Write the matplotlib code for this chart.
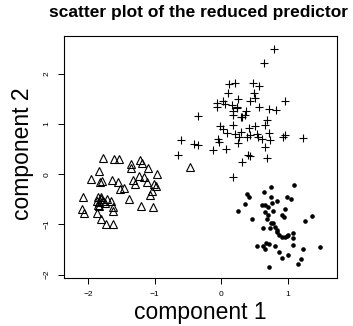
import matplotlib
matplotlib.use("Agg")
import matplotlib.pyplot as plt

plt.rcParams['font.family'] = ['Liberation Sans', 'DejaVu Sans']

# group 1 (open triangles)
tri_x = [-1.786, -1.609, -1.534, -1.361, -1.362, -1.215, -1.192, -1.095, -0.962, -1.836,
         -1.959, -1.824, -1.789, -1.641, -1.550, -1.529, -1.459, -1.323, -1.298, -1.242,
         -1.162, -1.114, -1.008, -0.986, -1.042, -1.068, -2.084, -1.851, -1.814, -1.774,
         -1.839, -1.874, -1.723, -1.663, -1.633, -1.835, -1.624, -1.395, -1.211, -1.027,
         -2.095, -2.062, -1.862, -1.812, -1.726, -1.629, -0.471, -1.802, -1.756, -1.857]
tri_y = [0.319, 0.295, 0.295, 0.201, 0.129, 0.285, 0.231, 0.116, 0.010, 0.072,
         -0.084, -0.159, -0.124, -0.118, -0.149, -0.285, -0.279, -0.118, -0.189, -0.034,
         -0.044, -0.159, -0.187, -0.239, -0.329, -0.412, -0.452, -0.446, -0.492, -0.532,
         -0.558, -0.542, -0.492, -0.526, -0.651, -0.641, -0.731, -0.502, -0.637, -0.655,
         -0.691, -0.767, -0.781, -0.894, -0.990, -0.994, 0.151, -0.462, -0.572, -0.612]

# group 2 (crosses)
plus_x = [0.792, 0.642, 0.123, 0.206, 0.481, 0.567, 0.105, 0.489, 0.507, 0.436,
          0.247, 0.026, -0.057, -0.060, 0.063, 0.161, 0.241, 0.571, 0.710, 0.830,
          0.965, -0.346, 0.180, 0.232, 0.379, 0.356, 0.319, 0.180, 0.289, 0.683,
          0.657, 0.507, -0.012, 0.026, 0.183, 0.081, 0.206, 0.304, 0.421, 0.432,
          0.532, 0.559, 0.605, 0.710, 0.732, 0.935, 0.965, 1.226, -0.054, -0.030,
          0.259, 0.256, 0.382, 0.657, -0.606, -0.403, -0.346, -0.132, 0.078, -0.644,
          0.397, 0.432, 0.308, 0.680, 0.180]
plus_y = [2.496, 2.227, 1.805, 1.813, 1.825, 1.759, 1.629, 1.614, 1.510, 1.470,
          1.506, 1.460, 1.420, 1.331, 1.400, 1.375, 1.347, 1.341, 1.297, 1.271,
          1.460, 1.171, 1.251, 1.315, 1.261, 1.181, 1.137, 1.191, 1.151, 1.076,
          0.982, 0.972, 0.962, 0.912, 0.976, 0.829, 0.803, 0.849, 0.916, 0.773,
          0.803, 0.743, 0.697, 0.823, 0.683, 0.749, 0.783, 0.729, 0.697, 0.643,
          0.737, 0.618, 0.737, 0.550, 0.693, 0.598, 0.574, 0.474, 0.504, 0.375,
          0.375, 0.355, 0.245, 0.325, -0.044]

# group 3 (filled dots)
dot_x = [0.743, 1.086, 0.391, 0.417, 0.635, 0.743, 0.983, 1.048, 0.353, 0.247,
         0.617, 0.662, 0.707, 0.758, 0.833, 0.662, 0.773, 0.962, 0.908, 0.943,
         1.364, 1.254, 0.469, 0.692, 0.743, 0.782, 0.624, 0.732, 0.808, 0.833,
         0.872, 0.908, 0.958, 1.008, 1.074, 1.083, 0.532, 0.632, 0.672, 0.713,
         0.653, 0.803, 1.074, 0.872, 0.908, 0.998, 1.224, 1.487, 1.203, 1.158,
         0.722, 0.702, 0.838, 0.988]
dot_y = [-0.247, -0.223, -0.402, -0.458, -0.353, -0.452, -0.450, -0.496, -0.596, -0.725,
         -0.606, -0.618, -0.645, -0.578, -0.538, -0.751, -0.725, -0.697, -0.811, -0.857,
         -0.827, -0.934, -0.896, -0.896, -0.964, -0.976, -1.076, -1.076, -1.044, -1.143,
         -1.209, -1.255, -1.255, -1.209, -1.163, -1.275, -1.422, -1.428, -1.375, -1.394,
         -1.488, -1.422, -1.414, -1.542, -1.661, -1.614, -1.494, -1.458, -1.693, -1.793,
         -1.853, -0.801, -1.100, -1.239]

x_ticks = [-2, -1, 0, 1]
y_ticks = [-2, -1, 0, 1, 2]

W, H = 353, 326
fig = plt.figure(figsize=(W / 100, H / 100), dpi=100)
ax = fig.add_axes([64 / W, 1 - 278 / H, 273 / W, 242 / H])

ax.plot(tri_x, tri_y, linestyle='none', marker='^', markersize=5.8,
        markerfacecolor='none', markeredgecolor='black', markeredgewidth=0.8)
ax.plot(plus_x, plus_y, linestyle='none', marker='+', markersize=6.2,
        color='black', markeredgewidth=0.8)
ax.plot(dot_x, dot_y, linestyle='none', marker='o', markersize=3.3,
        color='black', markeredgewidth=0)

ax.set_xlim(-2.365, 1.740)
ax.set_ylim(-2.066, 2.755)
ax.set_xticks(x_ticks)
ax.set_yticks(y_ticks)
ax.set_xticklabels([str(v).replace('-', '\u2212') for v in x_ticks])
ax.set_yticklabels([str(v).replace('-', '\u2212') for v in y_ticks],
                   rotation=90, va='center')
ax.tick_params(axis='both', direction='out', length=4.3, width=0.7,
               labelsize=6, color='black')
ax.tick_params(axis='x', pad=5.3)
ax.tick_params(axis='y', pad=5.3)
for s in ax.spines.values():
    s.set_linewidth(0.8)
    s.set_color('black')

ax.set_xlabel('component 1', fontsize=16.5)
ax.xaxis.set_label_coords(0.5, (278 - 313) / 242)
ax.xaxis.label.set_va('center')
ax.set_ylabel('component 2', fontsize=16.5)
ax.yaxis.set_label_coords((22 - 64) / 273, (278 - 154) / 242)
ax.yaxis.label.set_va('center')

fig.text(199 / W, 1 - 12 / H, 'scatter plot of the reduced predictor',
         ha='center', va='center', fontsize=12.5, fontweight='bold')

fig.savefig('out.png', dpi=100)
